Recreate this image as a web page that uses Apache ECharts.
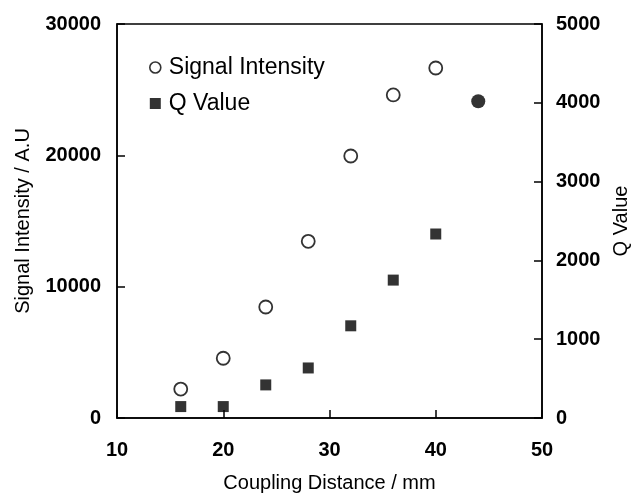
<!DOCTYPE html>
<html>
<head>
<meta charset="utf-8">
<script src="https://cdn.jsdelivr.net/npm/echarts@6/dist/echarts.min.js"></script>
<style>
  html, body { margin: 0; padding: 0; background: #fff; }
  #main { width: 633px; height: 494px; }
</style>
</head>
<body>
<div id="main"></div>
<script>
// coupling distance (mm)
var distance = [16, 20, 24, 28, 32, 36, 40];
// signal intensity (A.U), left axis
var signalIntensity = [2200, 4550, 8450, 13450, 19950, 24600, 26650];
// Q value, right axis
var qValue = [145, 145, 420, 635, 1170, 1750, 2335];
// the single filled circle at 44 mm (Q value)
var extraDistance = [44];
var extraQ = [4020];

var xTicks = { min: 10, max: 50, interval: 10 };
var leftTicks = { min: 0, max: 30000, interval: 10000 };
var rightTicks = { min: 0, max: 5000, interval: 1000 };

function pairs(xs, ys) {
    var out = [];
    for (var i = 0; i < xs.length; i++) {
        out.push([xs[i], ys[i]]);
    }
    return out;
}

var font = 'Liberation Sans, Arial, sans-serif';
function tickLabel(margin) {
    return {
        margin: margin,
        color: '#000',
        fontSize: 20,
        fontWeight: 'bold',
        fontFamily: font,
        formatter: function (v) { return String(v); } // no thousands separator
    };
}
var axisLine = { show: true, lineStyle: { color: '#000', width: 1.5 } };
var axisTick = { show: true, inside: true, length: 8, lineStyle: { color: '#000', width: 1.5 } };

var myChart = echarts.init(document.getElementById('main'));
myChart.setOption({
    animation: false,
    backgroundColor: '#fff',
    grid: {
        left: 117, right: 91, top: 24, bottom: 76,
        outerBoundsMode: 'none',
        show: true, borderColor: '#000', borderWidth: 1.5
    },
    legend: {
        orient: 'vertical',
        left: 144,
        top: 51,
        itemGap: 13,
        itemWidth: 11,
        itemHeight: 11,
        textStyle: { color: '#000', fontSize: 23, fontFamily: font, padding: [0, 0, 0, 3] },
        data: [
            {
                name: 'Signal Intensity', icon: 'circle',
                itemStyle: { color: '#fff', borderColor: '#000', borderWidth: 1.6 }
            },
            { name: 'Q Value', icon: 'rect', itemStyle: { color: '#000' } }
        ]
    },
    xAxis: {
        type: 'value',
        min: xTicks.min, max: xTicks.max, interval: xTicks.interval,
        name: 'Coupling Distance / mm',
        nameLocation: 'middle',
        nameGap: 55,
        nameTextStyle: { color: '#000', fontSize: 20, fontFamily: font },
        axisLine: axisLine,
        axisTick: axisTick,
        axisLabel: tickLabel(22),
        splitLine: { show: false }
    },
    yAxis: [
        {
            type: 'value',
            position: 'left',
            min: leftTicks.min, max: leftTicks.max, interval: leftTicks.interval,
            name: 'Signal Intensity / A.U',
            nameLocation: 'middle',
            nameGap: 84,
            nameTextStyle: { color: '#000', fontSize: 20, fontFamily: font },
            axisLine: axisLine,
            axisTick: axisTick,
            axisLabel: tickLabel(16),
            splitLine: { show: false }
        },
        {
            type: 'value',
            position: 'right',
            min: rightTicks.min, max: rightTicks.max, interval: rightTicks.interval,
            name: 'Q Value',
            nameLocation: 'middle',
            nameGap: 67,
            nameRotate: 90,
            nameTextStyle: { color: '#000', fontSize: 20, fontFamily: font },
            axisLine: axisLine,
            axisTick: axisTick,
            axisLabel: tickLabel(14),
            splitLine: { show: false }
        }
    ],
    series: [
        {
            name: 'Signal Intensity',
            type: 'scatter',
            yAxisIndex: 0,
            symbol: 'circle',
            symbolSize: 13,
            itemStyle: { color: '#fff', borderColor: '#000', borderWidth: 1.8 },
            data: pairs(distance, signalIntensity)
        },
        {
            name: 'Q Value',
            type: 'scatter',
            yAxisIndex: 1,
            symbol: 'rect',
            symbolSize: 11,
            itemStyle: { color: '#000' },
            data: pairs(distance, qValue)
        },
        {
            name: 'Q Value (44 mm)',
            type: 'scatter',
            yAxisIndex: 1,
            symbol: 'circle',
            symbolSize: 14,
            itemStyle: { color: '#000' },
            data: pairs(extraDistance, extraQ)
        }
    ]
});

window.addEventListener('resize', function () {
    myChart.resize();
});
</script>
</body>
</html>
